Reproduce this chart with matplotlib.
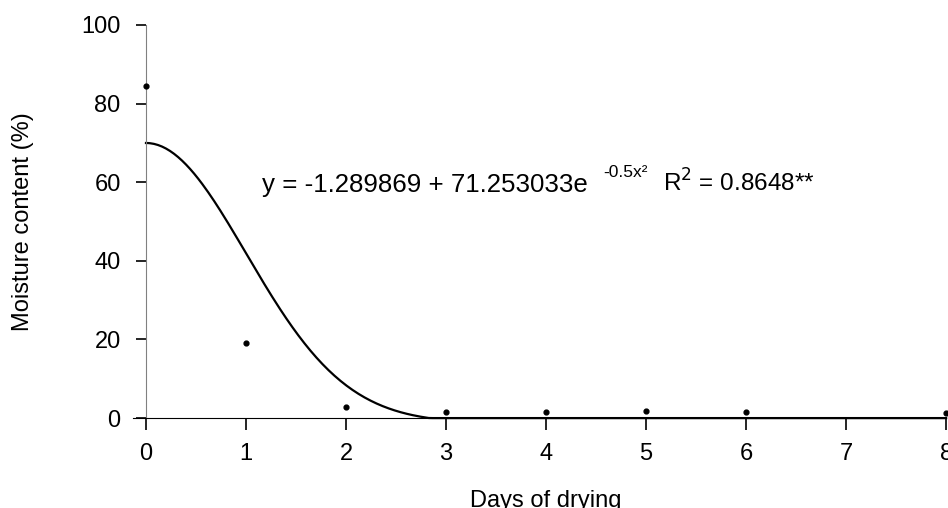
import numpy as np
import matplotlib.pyplot as plt

plt.rcParams['font.family'] = ['Liberation Sans', 'DejaVu Sans']

days = [0, 1, 2, 3, 4, 5, 6, 8]
moisture = [84.4, 19.1, 2.9, 1.5, 1.5, 1.7, 1.5, 1.2]

# fitted model shown on the chart
a, b, c = -1.289869, 71.253033, -0.5
x_fit = np.linspace(0, 8, 400)
y_fit = np.clip(a + b * np.exp(c * x_fit**2), 0, None)

fig = plt.figure(figsize=(9.48, 5.08), dpi=100)
ax = fig.add_axes([0.154, 0.177, 0.844, 0.774])

ax.plot(x_fit, y_fit, color='black', linewidth=1.6, clip_on=False)
ax.scatter(days, moisture, s=12, color='black', zorder=3, clip_on=False)

ax.set_xlim(0, 8)
ax.set_ylim(0, 100)
ax.set_xticks(range(0, 9))
ax.set_yticks(range(0, 101, 20))
ax.spines['top'].set_visible(False)
ax.spines['right'].set_visible(False)
ax.spines['left'].set_color('#808080')
ax.spines['bottom'].set_color('black')
ax.spines['bottom'].set_bounds(-0.13, 8)
ax.tick_params(axis='both', direction='out', width=1.2, labelsize=17, colors='black')
ax.tick_params(axis='x', length=8.6, pad=9)
ax.tick_params(axis='y', length=7.2, pad=11)

ax.set_xlabel('Days of drying', fontsize=17, labelpad=18)
ax.set_ylabel('Moisture content (%)', fontsize=17, labelpad=34)

ax.text(1.16, 57.6, 'y = -1.289869 + 71.253033e', fontsize=18.6, ha='left', va='baseline')
ax.text(4.57, 61.3, '-0.5x²', fontsize=12.5, ha='left', va='baseline')
ax.text(5.17, 57.6, 'R$^2$ = 0.8648**', fontsize=17.5, ha='left', va='baseline')

plt.savefig('out.png', dpi=100)
plt.close()
